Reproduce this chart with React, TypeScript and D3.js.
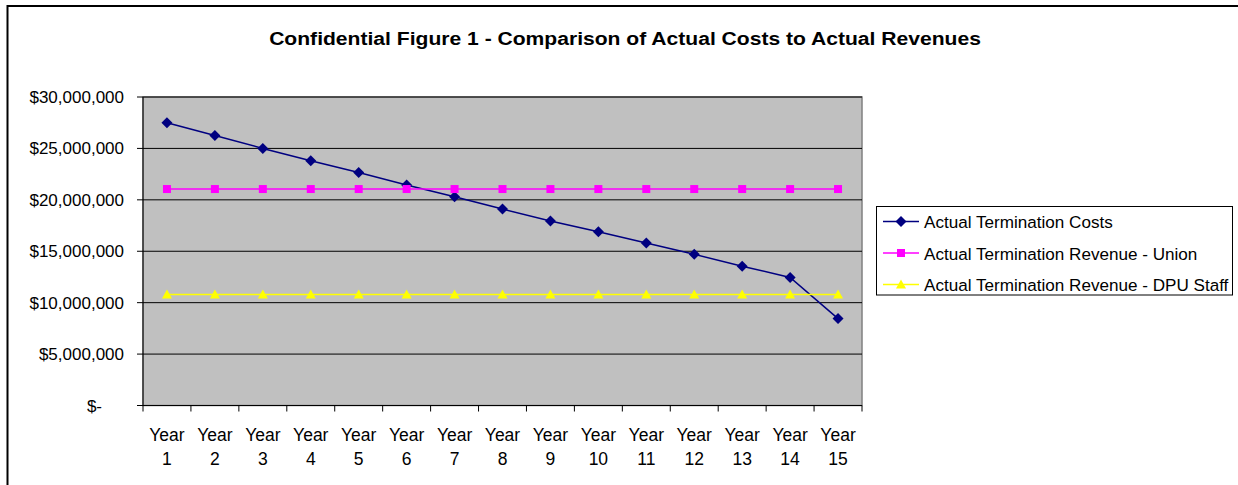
import React from "react";
import * as d3 from "d3";

const categories = ["Year 1","Year 2","Year 3","Year 4","Year 5","Year 6","Year 7","Year 8","Year 9","Year 10","Year 11","Year 12","Year 13","Year 14","Year 15"];
const costs = [27500000, 26250000, 25000000, 23800000, 22650000, 21450000, 20300000, 19100000, 17950000, 16900000, 15800000, 14700000, 13550000, 12450000, 8450000];
const revenueUnion = [21050000, 21050000, 21050000, 21050000, 21050000, 21050000, 21050000, 21050000, 21050000, 21050000, 21050000, 21050000, 21050000, 21050000, 21050000];
const revenueDPU = [10800000, 10800000, 10800000, 10800000, 10800000, 10800000, 10800000, 10800000, 10800000, 10800000, 10800000, 10800000, 10800000, 10800000, 10800000];
const yTicks = [0, 5000000, 10000000, 15000000, 20000000, 25000000, 30000000];
const seriesNames = ["Actual Termination Costs", "Actual Termination Revenue - Union", "Actual Termination Revenue - DPU Staff"];
const title = "Confidential Figure 1 - Comparison of Actual Costs to Actual Revenues";

const W = 1238, H = 485;
const plot = { left: 143, right: 862, top: 97, bottom: 405.5 };
const FONT = "'Liberation Sans', Arial, sans-serif";

function fmt(v: number) {
  if (v === 0) return "$-";
  return "$" + d3.format(",")(v);
}

function Marker({ type, x, y, color }: { type: string; x: number; y: number; color: string }) {
  if (type === "diamond") {
    const s = 5.5;
    return <path d={`M${x},${y - s}L${x + s},${y}L${x},${y + s}L${x - s},${y}Z`} fill={color} />;
  }
  if (type === "square") {
    const s = 4;
    return <rect x={x - s} y={y - s} width={2 * s} height={2 * s} fill={color} />;
  }
  const s = 5;
  return <path d={`M${x},${y - s}L${x + s},${y + s - 1}L${x - s},${y + s - 1}Z`} fill={color} />;
}

export default function App() {
  const x = d3.scaleBand<string>().domain(categories).range([plot.left, plot.right]).padding(0);
  const y = d3.scaleLinear().domain([0, 30000000]).range([plot.bottom, plot.top]);
  const cx = (c: string) => (x(c) as number) + x.bandwidth() / 2;

  const series = [
    { name: seriesNames[0], values: costs, color: "#000080", marker: "diamond" },
    { name: seriesNames[1], values: revenueUnion, color: "#FF00FF", marker: "square" },
    { name: seriesNames[2], values: revenueDPU, color: "#FFFF00", marker: "triangle" },
  ];
  const line = d3.line<number>().x((_, i) => cx(categories[i])).y((d) => y(d));

  const boundaries = categories.map((c) => x(c) as number).concat([plot.right]);

  const legendY = [221.5, 253, 284.5];
  const titleX = 625;

  return (
    <svg width={W} height={H} style={{ position: "absolute", left: 0, top: 0 }} fontFamily={FONT}>
      <rect x={0} y={0} width={W} height={H} fill="#fff" />
      <rect x={7.5} y={6} width={W + 20} height={H + 20} fill="none" stroke="#000" strokeWidth={2} />
      <g transform={`translate(${titleX},45) scale(1.11,1)`}>
        <text x={0} y={0} textAnchor="middle" fontSize={19} fontWeight="bold" fill="#000">{title}</text>
      </g>

      <rect x={plot.left} y={plot.top} width={plot.right - plot.left} height={plot.bottom - plot.top} fill="#C0C0C0" stroke="#808080" strokeWidth={1.5} />
      {yTicks.filter((t) => t > 0).map((t) => (
        <line key={t} x1={plot.left} x2={plot.right} y1={y(t)} y2={y(t)} stroke="#000" strokeWidth={1} />
      ))}
      <line x1={plot.left} x2={plot.left} y1={plot.top} y2={plot.bottom} stroke="#000" strokeWidth={1} />
      <line x1={plot.left} x2={plot.right} y1={plot.bottom} y2={plot.bottom} stroke="#000" strokeWidth={1} />
      {yTicks.map((t) => (
        <g key={t}>
          <line x1={plot.left - 6} x2={plot.left} y1={y(t)} y2={y(t)} stroke="#000" strokeWidth={1} />
          <text x={t === 0 ? 102 : 124} y={y(t) + 6} textAnchor="end" fontSize={17} fill="#000">{fmt(t)}</text>
        </g>
      ))}
      {boundaries.map((b, i) => (
        <line key={i} x1={b} x2={b} y1={plot.bottom} y2={plot.bottom + 6} stroke="#000" strokeWidth={1} />
      ))}
      {categories.map((c) => {
        const [a, b] = c.split(" ");
        return (
          <text key={c} x={cx(c)} textAnchor="middle" fontSize={17.5} fill="#000">
            <tspan x={cx(c)} y={441}>{a}</tspan>
            <tspan x={cx(c)} y={465}>{b}</tspan>
          </text>
        );
      })}

      {series.map((s) => (
        <g key={s.name}>
          <path d={line(s.values) || ""} fill="none" stroke={s.color} strokeWidth={1.5} />
          {s.values.map((v, i) => (
            <Marker key={i} type={s.marker} x={cx(categories[i])} y={y(v)} color={s.color} />
          ))}
        </g>
      ))}

      <rect x={876.5} y={206.5} width={356} height={88.5} fill="#fff" stroke="#000" strokeWidth={1} />
      {series.map((s, i) => (
        <g key={s.name}>
          <line x1={883} x2={919} y1={legendY[i]} y2={legendY[i]} stroke={s.color} strokeWidth={1.5} />
          <Marker type={s.marker} x={901} y={legendY[i]} color={s.color} />
          <text x={924} y={legendY[i] + 6.5} fontSize={17.1} fill="#000">{s.name}</text>
        </g>
      ))}
    </svg>
  );
}
